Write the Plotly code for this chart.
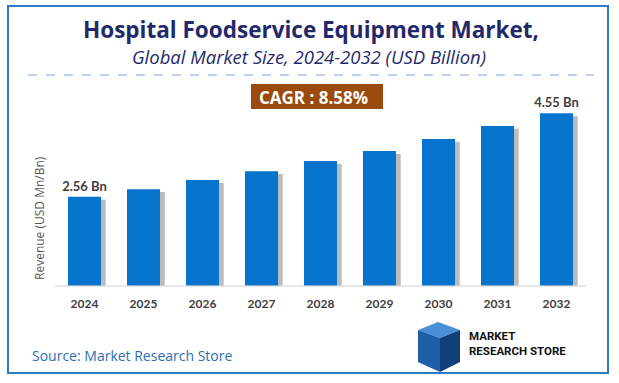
import plotly.graph_objects as go

years = ["2024", "2025", "2026", "2027", "2028", "2029", "2030", "2031", "2032"]
revenue = [2.56, 2.74, 2.96, 3.17, 3.41, 3.65, 3.94, 4.25, 4.55]
value_labels = ["2.56 Bn", "", "", "", "", "", "", "", "4.55 Bn"]
cagr_text = "CAGR : 8.58%"
title_text = "Hospital Foodservice Equipment Market,"
subtitle_text = "Global Market Size, 2024-2032 (USD Billion)"
source_text = "Source: Market Research Store"
ytitle = "Revenue (USD Mn/Bn)"

W, H = 619, 383
def px(x): return x / W
def py(y): return 1 - y / H

y0, y1 = 0.436, 0.436 + (285.7 - 100) / 41.9

fig = go.Figure()
# shadow
fig.add_trace(go.Bar(x=years, y=[v - 0.07 for v in revenue], width=0.56, offset=-0.2,
                     marker=dict(color="rgba(80,80,80,0.38)", line=dict(width=0)),
                     hoverinfo="skip", showlegend=False))
fig.add_trace(go.Bar(x=years, y=revenue, width=0.56, offset=-0.28,
                     marker=dict(color="#0674cc", line=dict(width=0)),
                     text=value_labels, textposition="outside", cliponaxis=False,
                     constraintext="none",
                     textfont=dict(family="Lato", size=13, color="#404040", weight="bold"),
                     showlegend=False))

fig.update_layout(
    width=W, height=H, margin=dict(l=0, r=0, t=0, b=0),
    paper_bgcolor="white", plot_bgcolor="white",
    barmode="overlay", uniformtext=dict(mode=False),
    xaxis=dict(domain=[px(55), px(586)], showgrid=False, zeroline=False,
               showline=False, ticks="", ticklabelstandoff=9,
               tickfont=dict(family="Lato", size=12, color="#404040", weight="bold"),
               fixedrange=True),
    yaxis=dict(domain=[py(285.7), py(100)], range=[y0, y1], showgrid=False,
               zeroline=False, showline=False, showticklabels=False, fixedrange=True),
    shapes=[
        dict(type="rect", xref="paper", yref="paper", x0=px(8), x1=px(608), y0=py(373), y1=py(6),
             line=dict(color="#2f7bc4", width=2), fillcolor="rgba(0,0,0,0)"),
        dict(type="line", xref="paper", yref="paper", x0=px(28), x1=px(594), y0=py(75), y1=py(75),
             line=dict(color="#7ba3d6", width=1, dash="dash")),
        dict(type="line", xref="paper", yref="paper", x0=px(55), x1=px(586), y0=py(286), y1=py(286),
             line=dict(color="#d0d0d0", width=1)),
        dict(type="rect", xref="paper", yref="paper", x0=px(251), x1=px(383), y0=py(109), y1=py(84),
             line=dict(width=0), fillcolor="#9a4a0c"),
        # logo icon (simplified)
        dict(type="path", xref="paper", yref="paper",
             path=f"M {px(418)},{py(330)} L {px(438)},{py(322)} L {px(460)},{py(330)} L {px(440)},{py(338)} Z",
             line=dict(width=0), fillcolor="#4a90d9"),
        dict(type="path", xref="paper", yref="paper",
             path=f"M {px(418)},{py(330)} L {px(440)},{py(338)} L {px(440)},{py(372)} L {px(418)},{py(362)} Z",
             line=dict(width=0), fillcolor="#1f5fa8"),
        dict(type="path", xref="paper", yref="paper",
             path=f"M {px(440)},{py(338)} L {px(460)},{py(330)} L {px(460)},{py(362)} L {px(440)},{py(372)} Z",
             line=dict(width=0), fillcolor="#123f78"),
    ],
    annotations=[
        dict(text=f"<b>{title_text}</b>", x=px(311), y=py(30), xref="paper", yref="paper",
             showarrow=False, font=dict(family="Open Sans", size=22.5, color="#1f2a6b"),
             xanchor="center", yanchor="middle"),
        dict(text=f"<i>{subtitle_text}</i>", x=px(309), y=py(56), xref="paper", yref="paper",
             showarrow=False, font=dict(family="Open Sans", size=18.5, color="#1f2a6b"),
             xanchor="center", yanchor="middle"),
        dict(text=f"<b>{cagr_text}</b>", x=px(313), y=py(97), xref="paper", yref="paper",
             showarrow=False, font=dict(family="Open Sans", size=17, color="white"),
             xanchor="center", yanchor="middle"),
        dict(text=ytitle, x=px(40), y=py(218), xref="paper", yref="paper", textangle=-90,
             showarrow=False, font=dict(family="Open Sans", size=12, color="#555555"),
             xanchor="center", yanchor="middle"),
        dict(text=source_text, x=px(30), y=py(355), xref="paper", yref="paper",
             showarrow=False, font=dict(family="Open Sans", size=14, color="#2e6db4"),
             xanchor="left", yanchor="middle"),
        dict(text="<b>MARKET<br>RESEARCH STORE</b>", x=px(467), y=py(343), xref="paper", yref="paper",
             showarrow=False, align="left",
             font=dict(family="Roboto", size=11.5, color="#111111"),
             xanchor="left", yanchor="middle"),
    ],
)

fig.write_html("out.html", config={"displayModeBar": False},
               post_script="document.body.style.margin='0';document.body.style.padding='0';document.body.style.overflow='hidden';")
